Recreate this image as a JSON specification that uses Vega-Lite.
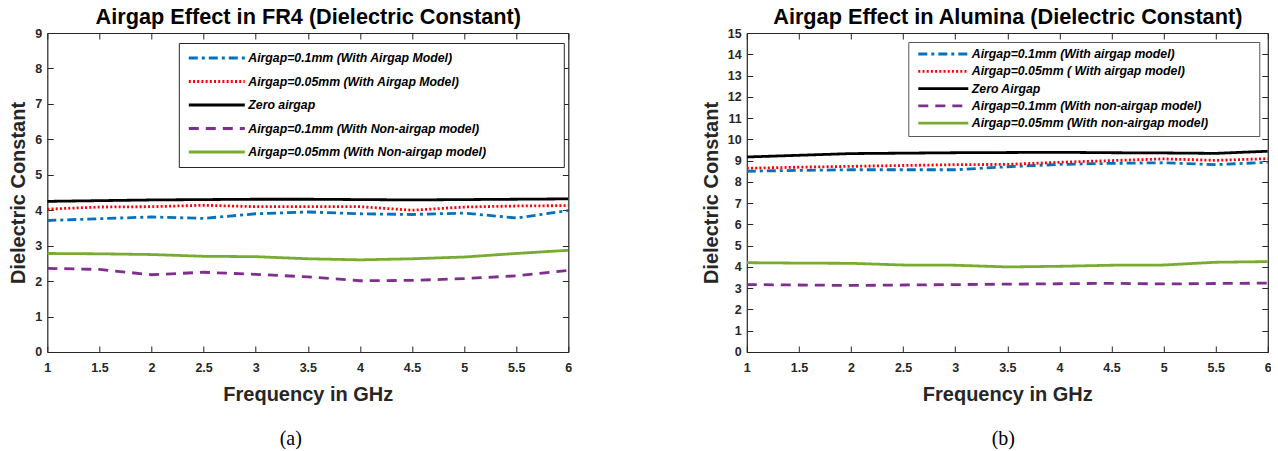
{
  "$schema": "https://vega.github.io/schema/vega-lite/v6.json",
  "padding": {"left": 8.3, "top": 6, "right": 0, "bottom": 0},
  "background": "white",
  "spacing": 128.5,
  "resolve": {
    "scale": {"color": "independent", "strokeDash": "independent", "strokeWidth": "independent"},
    "legend": {"color": "independent", "strokeDash": "independent", "strokeWidth": "independent"}
  },
  "datasets": {
    "fr4": [
      {"f": 1, "s": "Airgap=0.1mm (With Airgap Model)", "v": 3.71},
      {"f": 1.5, "s": "Airgap=0.1mm (With Airgap Model)", "v": 3.76},
      {"f": 2, "s": "Airgap=0.1mm (With Airgap Model)", "v": 3.81},
      {"f": 2.5, "s": "Airgap=0.1mm (With Airgap Model)", "v": 3.77},
      {"f": 3, "s": "Airgap=0.1mm (With Airgap Model)", "v": 3.9},
      {"f": 3.5, "s": "Airgap=0.1mm (With Airgap Model)", "v": 3.95},
      {"f": 4, "s": "Airgap=0.1mm (With Airgap Model)", "v": 3.9},
      {"f": 4.5, "s": "Airgap=0.1mm (With Airgap Model)", "v": 3.88},
      {"f": 5, "s": "Airgap=0.1mm (With Airgap Model)", "v": 3.92},
      {"f": 5.5, "s": "Airgap=0.1mm (With Airgap Model)", "v": 3.78},
      {"f": 6, "s": "Airgap=0.1mm (With Airgap Model)", "v": 3.99},
      {"f": 1, "s": "Airgap=0.05mm (With Airgap Model)", "v": 4.03},
      {"f": 1.5, "s": "Airgap=0.05mm (With Airgap Model)", "v": 4.09},
      {"f": 2, "s": "Airgap=0.05mm (With Airgap Model)", "v": 4.1},
      {"f": 2.5, "s": "Airgap=0.05mm (With Airgap Model)", "v": 4.14},
      {"f": 3, "s": "Airgap=0.05mm (With Airgap Model)", "v": 4.1},
      {"f": 3.5, "s": "Airgap=0.05mm (With Airgap Model)", "v": 4.1},
      {"f": 4, "s": "Airgap=0.05mm (With Airgap Model)", "v": 4.1},
      {"f": 4.5, "s": "Airgap=0.05mm (With Airgap Model)", "v": 4.0},
      {"f": 5, "s": "Airgap=0.05mm (With Airgap Model)", "v": 4.09},
      {"f": 5.5, "s": "Airgap=0.05mm (With Airgap Model)", "v": 4.12},
      {"f": 6, "s": "Airgap=0.05mm (With Airgap Model)", "v": 4.13},
      {"f": 1, "s": "Zero airgap", "v": 4.25},
      {"f": 1.5, "s": "Zero airgap", "v": 4.27},
      {"f": 2, "s": "Zero airgap", "v": 4.29},
      {"f": 2.5, "s": "Zero airgap", "v": 4.3},
      {"f": 3, "s": "Zero airgap", "v": 4.31},
      {"f": 3.5, "s": "Zero airgap", "v": 4.31},
      {"f": 4, "s": "Zero airgap", "v": 4.3},
      {"f": 4.5, "s": "Zero airgap", "v": 4.29},
      {"f": 5, "s": "Zero airgap", "v": 4.3},
      {"f": 5.5, "s": "Zero airgap", "v": 4.31},
      {"f": 6, "s": "Zero airgap", "v": 4.32},
      {"f": 1, "s": "Airgap=0.1mm (With Non-airgap model)", "v": 2.36},
      {"f": 1.5, "s": "Airgap=0.1mm (With Non-airgap model)", "v": 2.33},
      {"f": 2, "s": "Airgap=0.1mm (With Non-airgap model)", "v": 2.18},
      {"f": 2.5, "s": "Airgap=0.1mm (With Non-airgap model)", "v": 2.25},
      {"f": 3, "s": "Airgap=0.1mm (With Non-airgap model)", "v": 2.19},
      {"f": 3.5, "s": "Airgap=0.1mm (With Non-airgap model)", "v": 2.12},
      {"f": 4, "s": "Airgap=0.1mm (With Non-airgap model)", "v": 2.01},
      {"f": 4.5, "s": "Airgap=0.1mm (With Non-airgap model)", "v": 2.02},
      {"f": 5, "s": "Airgap=0.1mm (With Non-airgap model)", "v": 2.07},
      {"f": 5.5, "s": "Airgap=0.1mm (With Non-airgap model)", "v": 2.15},
      {"f": 6, "s": "Airgap=0.1mm (With Non-airgap model)", "v": 2.3},
      {"f": 1, "s": "Airgap=0.05mm (With Non-airgap model)", "v": 2.78},
      {"f": 1.5, "s": "Airgap=0.05mm (With Non-airgap model)", "v": 2.77},
      {"f": 2, "s": "Airgap=0.05mm (With Non-airgap model)", "v": 2.75},
      {"f": 2.5, "s": "Airgap=0.05mm (With Non-airgap model)", "v": 2.7},
      {"f": 3, "s": "Airgap=0.05mm (With Non-airgap model)", "v": 2.69},
      {"f": 3.5, "s": "Airgap=0.05mm (With Non-airgap model)", "v": 2.63},
      {"f": 4, "s": "Airgap=0.05mm (With Non-airgap model)", "v": 2.6},
      {"f": 4.5, "s": "Airgap=0.05mm (With Non-airgap model)", "v": 2.63},
      {"f": 5, "s": "Airgap=0.05mm (With Non-airgap model)", "v": 2.68},
      {"f": 5.5, "s": "Airgap=0.05mm (With Non-airgap model)", "v": 2.78},
      {"f": 6, "s": "Airgap=0.05mm (With Non-airgap model)", "v": 2.87}
    ],
    "alumina": [
      {"f": 1, "s": "Airgap=0.1mm (With airgap model)", "v": 8.5},
      {"f": 1.5, "s": "Airgap=0.1mm (With airgap model)", "v": 8.54},
      {"f": 2, "s": "Airgap=0.1mm (With airgap model)", "v": 8.57},
      {"f": 2.5, "s": "Airgap=0.1mm (With airgap model)", "v": 8.57},
      {"f": 3, "s": "Airgap=0.1mm (With airgap model)", "v": 8.57},
      {"f": 3.5, "s": "Airgap=0.1mm (With airgap model)", "v": 8.71},
      {"f": 4, "s": "Airgap=0.1mm (With airgap model)", "v": 8.82},
      {"f": 4.5, "s": "Airgap=0.1mm (With airgap model)", "v": 8.87},
      {"f": 5, "s": "Airgap=0.1mm (With airgap model)", "v": 8.9},
      {"f": 5.5, "s": "Airgap=0.1mm (With airgap model)", "v": 8.81},
      {"f": 6, "s": "Airgap=0.1mm (With airgap model)", "v": 8.92},
      {"f": 1, "s": "Airgap=0.05mm ( With airgap model)", "v": 8.64},
      {"f": 1.5, "s": "Airgap=0.05mm ( With airgap model)", "v": 8.69},
      {"f": 2, "s": "Airgap=0.05mm ( With airgap model)", "v": 8.73},
      {"f": 2.5, "s": "Airgap=0.05mm ( With airgap model)", "v": 8.77},
      {"f": 3, "s": "Airgap=0.05mm ( With airgap model)", "v": 8.81},
      {"f": 3.5, "s": "Airgap=0.05mm ( With airgap model)", "v": 8.82},
      {"f": 4, "s": "Airgap=0.05mm ( With airgap model)", "v": 8.92},
      {"f": 4.5, "s": "Airgap=0.05mm ( With airgap model)", "v": 9.0},
      {"f": 5, "s": "Airgap=0.05mm ( With airgap model)", "v": 9.08},
      {"f": 5.5, "s": "Airgap=0.05mm ( With airgap model)", "v": 9.01},
      {"f": 6, "s": "Airgap=0.05mm ( With airgap model)", "v": 9.09},
      {"f": 1, "s": "Zero Airgap", "v": 9.17},
      {"f": 1.5, "s": "Zero Airgap", "v": 9.25},
      {"f": 2, "s": "Zero Airgap", "v": 9.33},
      {"f": 2.5, "s": "Zero Airgap", "v": 9.35},
      {"f": 3, "s": "Zero Airgap", "v": 9.37},
      {"f": 3.5, "s": "Zero Airgap", "v": 9.38},
      {"f": 4, "s": "Zero Airgap", "v": 9.39},
      {"f": 4.5, "s": "Zero Airgap", "v": 9.37},
      {"f": 5, "s": "Zero Airgap", "v": 9.36},
      {"f": 5.5, "s": "Zero Airgap", "v": 9.34},
      {"f": 6, "s": "Zero Airgap", "v": 9.44},
      {"f": 1, "s": "Airgap=0.1mm (With non-airgap model)", "v": 3.17},
      {"f": 1.5, "s": "Airgap=0.1mm (With non-airgap model)", "v": 3.15},
      {"f": 2, "s": "Airgap=0.1mm (With non-airgap model)", "v": 3.13},
      {"f": 2.5, "s": "Airgap=0.1mm (With non-airgap model)", "v": 3.15},
      {"f": 3, "s": "Airgap=0.1mm (With non-airgap model)", "v": 3.17},
      {"f": 3.5, "s": "Airgap=0.1mm (With non-airgap model)", "v": 3.19},
      {"f": 4, "s": "Airgap=0.1mm (With non-airgap model)", "v": 3.21},
      {"f": 4.5, "s": "Airgap=0.1mm (With non-airgap model)", "v": 3.23},
      {"f": 5, "s": "Airgap=0.1mm (With non-airgap model)", "v": 3.2},
      {"f": 5.5, "s": "Airgap=0.1mm (With non-airgap model)", "v": 3.22},
      {"f": 6, "s": "Airgap=0.1mm (With non-airgap model)", "v": 3.24},
      {"f": 1, "s": "Airgap=0.05mm (With non-airgap model)", "v": 4.2},
      {"f": 1.5, "s": "Airgap=0.05mm (With non-airgap model)", "v": 4.18},
      {"f": 2, "s": "Airgap=0.05mm (With non-airgap model)", "v": 4.17},
      {"f": 2.5, "s": "Airgap=0.05mm (With non-airgap model)", "v": 4.09},
      {"f": 3, "s": "Airgap=0.05mm (With non-airgap model)", "v": 4.08},
      {"f": 3.5, "s": "Airgap=0.05mm (With non-airgap model)", "v": 4.0},
      {"f": 4, "s": "Airgap=0.05mm (With non-airgap model)", "v": 4.03},
      {"f": 4.5, "s": "Airgap=0.05mm (With non-airgap model)", "v": 4.08},
      {"f": 5, "s": "Airgap=0.05mm (With non-airgap model)", "v": 4.09},
      {"f": 5.5, "s": "Airgap=0.05mm (With non-airgap model)", "v": 4.22},
      {"f": 6, "s": "Airgap=0.05mm (With non-airgap model)", "v": 4.25}
    ]
  },
  "hconcat": [
    {
      "width": 521,
      "height": 319,
      "data": {"name": "fr4"},
      "title": {"text": "(a)", "orient": "bottom", "font": "Liberation Serif", "fontSize": 20, "fontWeight": "normal", "color": "black", "offset": 24, "dx": -17},
      "layer": [
        {
          "mark": {"type": "line", "clip": true},
          "encoding": {
            "x": {"field": "f", "type": "quantitative", "scale": {"domain": [1, 6], "nice": false, "zero": false},
                  "axis": {"orient": "bottom", "title": "Frequency in GHz", "values": [1, 1.5, 2, 2.5, 3, 3.5, 4, 4.5, 5, 5.5, 6], "format": "~g"}},
            "y": {"field": "v", "type": "quantitative", "scale": {"domain": [0, 9], "nice": false},
                  "axis": {"orient": "left", "title": "Dielectric Constant", "values": [0, 1, 2, 3, 4, 5, 6, 7, 8, 9], "format": "~g"}},
            "color": {"field": "s", "type": "nominal",
                      "scale": {"domain": ["Airgap=0.1mm (With Airgap Model)", "Airgap=0.05mm (With Airgap Model)", "Zero airgap", "Airgap=0.1mm (With Non-airgap model)", "Airgap=0.05mm (With Non-airgap model)"],
                                "range": ["#0072BD", "#FF0000", "#000000", "#7E2F8E", "#77AC30"]},
                      "legend": {"title": null, "orient": "none", "legendX": 131.5, "legendY": 10, "symbolType": "stroke", "symbolSize": 3136, "clipHeight": 13, "rowPadding": 10.5, "padding": 8.5, "strokeColor": "#262626", "fillColor": "white", "labelFont": "Liberation Sans", "labelFontSize": 12.3, "labelFontStyle": "italic", "labelFontWeight": "bold", "labelColor": "#000000", "labelLimit": 600, "labelOffset": 2, "labelExpr": "datum.label + '\u00a0\u00a0\u00a0\u00a0\u00a0\u00a0\u00a0\u00a0\u00a0\u00a0\u00a0\u00a0\u00a0\u00a0\u00a0\u00a0\u00a0\u00a0\u00a0\u00a0\u200b'"}},
            "strokeDash": {"field": "s", "type": "nominal",
                      "scale": {"domain": ["Airgap=0.1mm (With Airgap Model)", "Airgap=0.05mm (With Airgap Model)", "Zero airgap", "Airgap=0.1mm (With Non-airgap model)", "Airgap=0.05mm (With Non-airgap model)"],
                                "range": [[9, 4, 3, 4], [2, 2.2], [1, 0], [10, 7], [1, 0]]},
                      "legend": {"title": null, "orient": "none", "legendX": 131.5, "legendY": 10, "symbolType": "stroke", "symbolSize": 3136, "clipHeight": 13, "rowPadding": 10.5, "padding": 8.5, "strokeColor": "#262626", "fillColor": "white", "labelFont": "Liberation Sans", "labelFontSize": 12.3, "labelFontStyle": "italic", "labelFontWeight": "bold", "labelColor": "#000000", "labelLimit": 600, "labelOffset": 2, "labelExpr": "datum.label + '\u00a0\u00a0\u00a0\u00a0\u00a0\u00a0\u00a0\u00a0\u00a0\u00a0\u00a0\u00a0\u00a0\u00a0\u00a0\u00a0\u00a0\u00a0\u00a0\u00a0\u200b'"}},
            "strokeWidth": {"field": "s", "type": "nominal",
                      "scale": {"domain": ["Airgap=0.1mm (With Airgap Model)", "Airgap=0.05mm (With Airgap Model)", "Zero airgap", "Airgap=0.1mm (With Non-airgap model)", "Airgap=0.05mm (With Non-airgap model)"],
                                "range": [2.8, 2.8, 3, 2.8, 1.6]},
                      "legend": {"title": null, "orient": "none", "legendX": 131.5, "legendY": 10, "symbolType": "stroke", "symbolSize": 3136, "clipHeight": 13, "rowPadding": 10.5, "padding": 8.5, "strokeColor": "#262626", "fillColor": "white", "labelFont": "Liberation Sans", "labelFontSize": 12.3, "labelFontStyle": "italic", "labelFontWeight": "bold", "labelColor": "#000000", "labelLimit": 600, "labelOffset": 2, "labelExpr": "datum.label + '\u00a0\u00a0\u00a0\u00a0\u00a0\u00a0\u00a0\u00a0\u00a0\u00a0\u00a0\u00a0\u00a0\u00a0\u00a0\u00a0\u00a0\u00a0\u00a0\u00a0\u200b'"}}
          }
        },
        {
          "mark": {"type": "point", "opacity": 0},
          "encoding": {
            "x": {"field": "f", "type": "quantitative",
                  "axis": {"orient": "top", "labels": false, "title": "Airgap Effect in FR4 (Dielectric Constant)", "titleFontSize": 21.7, "titleColor": "#000000", "titlePadding": 4, "values": [1, 1.5, 2, 2.5, 3, 3.5, 4, 4.5, 5, 5.5, 6]}},
            "y": {"field": "v", "type": "quantitative",
                  "axis": {"orient": "right", "labels": false, "title": null, "values": [0, 1, 2, 3, 4, 5, 6, 7, 8, 9]}}
          }
        }
      ],
      "resolve": {"axis": {"x": "independent", "y": "independent"}}
    },
    {
      "width": 521,
      "height": 319,
      "data": {"name": "alumina"},
      "title": {"text": "(b)", "orient": "bottom", "font": "Liberation Serif", "fontSize": 20, "fontWeight": "normal", "color": "black", "offset": 24, "dx": -4},
      "layer": [
        {
          "mark": {"type": "line", "clip": true},
          "encoding": {
            "x": {"field": "f", "type": "quantitative", "scale": {"domain": [1, 6], "nice": false, "zero": false},
                  "axis": {"orient": "bottom", "title": "Frequency in GHz", "values": [1, 1.5, 2, 2.5, 3, 3.5, 4, 4.5, 5, 5.5, 6], "format": "~g"}},
            "y": {"field": "v", "type": "quantitative", "scale": {"domain": [0, 15], "nice": false},
                  "axis": {"orient": "left", "title": "Dielectric Constant", "values": [0, 1, 2, 3, 4, 5, 6, 7, 8, 9, 10, 11, 12, 13, 14, 15], "format": "~g"}},
            "color": {"field": "s", "type": "nominal",
                      "scale": {"domain": ["Airgap=0.1mm (With airgap model)", "Airgap=0.05mm ( With airgap model)", "Zero Airgap", "Airgap=0.1mm (With non-airgap model)", "Airgap=0.05mm (With non-airgap model)"],
                                "range": ["#0072BD", "#FF0000", "#000000", "#7E2F8E", "#77AC30"]},
                      "legend": {"title": null, "orient": "none", "legendX": 161.5, "legendY": 9, "symbolType": "stroke", "symbolSize": 2500, "symbolOffset": 3, "clipHeight": 13, "rowPadding": 4.3, "padding": 5.5, "strokeColor": "#555555", "fillColor": "white", "labelFont": "Liberation Sans", "labelFontSize": 12.3, "labelFontStyle": "italic", "labelFontWeight": "bold", "labelColor": "#000000", "labelLimit": 600, "labelOffset": 2, "labelExpr": "datum.label + '\u00a0\u00a0\u00a0\u00a0\u00a0\u00a0\u00a0\u00a0\u00a0\u00a0\u00a0\u00a0\u00a0\u200b'"}},
            "strokeDash": {"field": "s", "type": "nominal",
                      "scale": {"domain": ["Airgap=0.1mm (With airgap model)", "Airgap=0.05mm ( With airgap model)", "Zero Airgap", "Airgap=0.1mm (With non-airgap model)", "Airgap=0.05mm (With non-airgap model)"],
                                "range": [[9, 4, 3, 4], [2, 2.2], [1, 0], [10, 7], [1, 0]]},
                      "legend": {"title": null, "orient": "none", "legendX": 161.5, "legendY": 9, "symbolType": "stroke", "symbolSize": 2500, "symbolOffset": 3, "clipHeight": 13, "rowPadding": 4.3, "padding": 5.5, "strokeColor": "#555555", "fillColor": "white", "labelFont": "Liberation Sans", "labelFontSize": 12.3, "labelFontStyle": "italic", "labelFontWeight": "bold", "labelColor": "#000000", "labelLimit": 600, "labelOffset": 2, "labelExpr": "datum.label + '\u00a0\u00a0\u00a0\u00a0\u00a0\u00a0\u00a0\u00a0\u00a0\u00a0\u00a0\u00a0\u00a0\u200b'"}},
            "strokeWidth": {"field": "s", "type": "nominal",
                      "scale": {"domain": ["Airgap=0.1mm (With airgap model)", "Airgap=0.05mm ( With airgap model)", "Zero Airgap", "Airgap=0.1mm (With non-airgap model)", "Airgap=0.05mm (With non-airgap model)"],
                                "range": [2.8, 2.8, 3, 2.8, 1.6]},
                      "legend": {"title": null, "orient": "none", "legendX": 161.5, "legendY": 9, "symbolType": "stroke", "symbolSize": 2500, "symbolOffset": 3, "clipHeight": 13, "rowPadding": 4.3, "padding": 5.5, "strokeColor": "#555555", "fillColor": "white", "labelFont": "Liberation Sans", "labelFontSize": 12.3, "labelFontStyle": "italic", "labelFontWeight": "bold", "labelColor": "#000000", "labelLimit": 600, "labelOffset": 2, "labelExpr": "datum.label + '\u00a0\u00a0\u00a0\u00a0\u00a0\u00a0\u00a0\u00a0\u00a0\u00a0\u00a0\u00a0\u00a0\u200b'"}}
          }
        },
        {
          "mark": {"type": "point", "opacity": 0},
          "encoding": {
            "x": {"field": "f", "type": "quantitative",
                  "axis": {"orient": "top", "labels": false, "title": "Airgap Effect in Alumina (Dielectric Constant)", "titleFontSize": 21.7, "titleColor": "#000000", "titlePadding": 4, "values": [1, 1.5, 2, 2.5, 3, 3.5, 4, 4.5, 5, 5.5, 6]}},
            "y": {"field": "v", "type": "quantitative",
                  "axis": {"orient": "right", "labels": false, "title": null, "values": [0, 1, 2, 3, 4, 5, 6, 7, 8, 9, 10, 11, 12, 13, 14, 15]}}
          }
        }
      ],
      "resolve": {"axis": {"x": "independent", "y": "independent"}}
    }
  ],
  "config": {
    "view": {"stroke": null},
    "font": "Liberation Sans",
    "axis": {"domain": true, "ticks": true, "domainColor": "#262626", "domainWidth": 1.2, "tickColor": "#262626", "tickSize": -6, "tickWidth": 1,
             "labelFont": "Liberation Sans", "labelFontSize": 12.5, "labelFontWeight": "bold", "labelColor": "#262626",
             "titleFont": "Liberation Sans", "titleFontSize": 20, "titleFontWeight": "bold", "titleColor": "#262626",
             "grid": false, "minExtent": 0, "labelFlush": false, "labelOverlap": false},
    "axisX": {"labelPadding": 15.5, "titlePadding": 11},
    "axisY": {"labelPadding": 11.6, "titlePadding": 6}
  }
}
